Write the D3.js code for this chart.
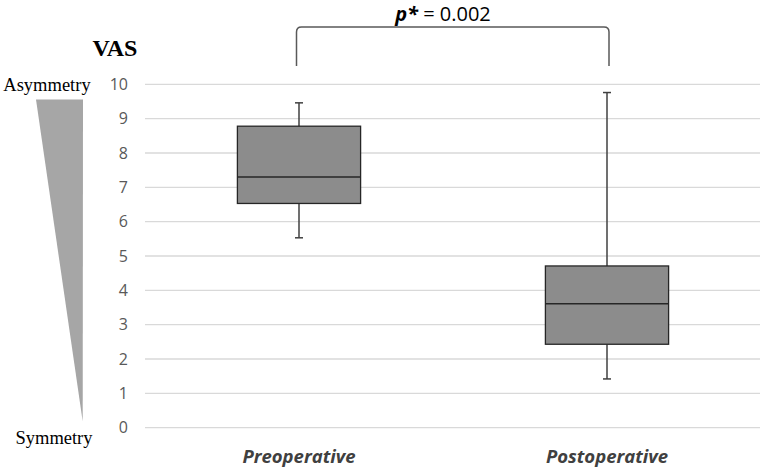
<!DOCTYPE html>
<html><head><meta charset="utf-8">
<script src="https://cdn.jsdelivr.net/npm/d3@7"></script>
<style>body{margin:0;background:#fff}svg{display:block}</style>
</head><body>
<svg id="c" width="762" height="470"></svg>
<script>
const categories = ["Preoperative", "Postoperative"];
const whiskerLow = [5.53, 1.42];
const q1 = [6.53, 2.43];
const medians = [7.30, 3.61];
const q3 = [8.78, 4.71];
const whiskerHigh = [9.46, 9.76];
const yTicks = [0,1,2,3,4,5,6,7,8,9,10];
const pLabel = "= 0.002";

const svg = d3.select("#c");
const x = d3.scaleBand().domain(categories).range([145, 761]).paddingInner(0).paddingOuter(0);
const y = d3.scaleLinear().domain([0, 10]).range([427.7, 84.3]);

// gridlines
svg.append("g").selectAll("line").data(yTicks).join("line")
  .attr("x1", 145).attr("x2", 760)
  .attr("y1", d => y(d)).attr("y2", d => y(d))
  .attr("stroke", "#d9d9d9").attr("stroke-width", 1.3);

// y tick labels
svg.append("g").selectAll("text").data(yTicks).join("text")
  .attr("x", 128).attr("y", d => y(d)).attr("dy", "0.35em")
  .attr("text-anchor", "end")
  .attr("font-family", "Open Sans, sans-serif").attr("font-size", 16)
  .attr("fill", "#595959").text(d => d);

// boxes
const bw = x.bandwidth() * 0.4;
const g = svg.append("g");
categories.forEach((c, i) => {
  const cx = x(c) + x.bandwidth() / 2;
  g.append("line").attr("x1", cx).attr("x2", cx).attr("y1", y(whiskerHigh[i])).attr("y2", y(q3[i]))
    .attr("stroke", "#404040").attr("stroke-width", 1.5);
  g.append("line").attr("x1", cx).attr("x2", cx).attr("y1", y(q1[i])).attr("y2", y(whiskerLow[i]))
    .attr("stroke", "#404040").attr("stroke-width", 1.5);
  [whiskerHigh[i], whiskerLow[i]].forEach(v => {
    g.append("line").attr("x1", cx - 4).attr("x2", cx + 4).attr("y1", y(v)).attr("y2", y(v))
      .attr("stroke", "#404040").attr("stroke-width", 1.5);
  });
  g.append("rect").attr("x", cx - bw / 2).attr("width", bw)
    .attr("y", y(q3[i])).attr("height", y(q1[i]) - y(q3[i]))
    .attr("fill", "#8c8c8c").attr("stroke", "#262626").attr("stroke-width", 1.3);
  g.append("line").attr("x1", cx - bw / 2).attr("x2", cx + bw / 2).attr("y1", y(medians[i])).attr("y2", y(medians[i]))
    .attr("stroke", "#262626").attr("stroke-width", 1.5);
  svg.append("text").attr("x", cx).attr("y", 463).attr("text-anchor", "middle")
    .attr("font-family", "Open Sans, sans-serif").attr("font-size", 18.5).attr("font-weight", "bold")
    .attr("font-style", "italic").attr("fill", "#404040").text(c);
});

// bracket
const bx1 = x(categories[0]) + x.bandwidth() / 2 - 2.5;
const bx2 = x(categories[1]) + x.bandwidth() / 2 + 2;
const byTop = 27, byBot = 66, r = 5;
svg.append("path")
  .attr("d", `M${bx1},${byBot} L${bx1},${byTop + r} Q${bx1},${byTop} ${bx1 + r},${byTop} L${bx2 - r},${byTop} Q${bx2},${byTop} ${bx2},${byTop + r} L${bx2},${byBot}`)
  .attr("fill", "none").attr("stroke", "#595959").attr("stroke-width", 1.5);

const pt = svg.append("text").attr("x", 443).attr("y", 21).attr("text-anchor", "middle")
  .attr("font-family", "Open Sans, sans-serif").attr("font-size", 20).attr("fill", "#000");
pt.append("tspan").attr("font-style", "italic").attr("font-weight", "bold").text("p*");
pt.append("tspan").text(" " + pLabel);

// VAS title
svg.append("text").attr("x", 115).attr("y", 56).attr("text-anchor", "middle")
  .attr("font-family", "Liberation Serif, serif").attr("font-size", 24).attr("font-weight", "bold")
  .attr("fill", "#000").text("VAS");

svg.append("text").attr("x", 47).attr("y", 91).attr("text-anchor", "middle")
  .attr("font-family", "Liberation Serif, serif").attr("font-size", 18.5)
  .attr("fill", "#000").text("Asymmetry");
svg.append("text").attr("x", 54).attr("y", 444).attr("text-anchor", "middle")
  .attr("font-family", "Liberation Serif, serif").attr("font-size", 18.5)
  .attr("fill", "#000").text("Symmetry");

// wedge
svg.append("path").attr("d", "M36,99.5 L83,99.5 L82.7,421.5 Z").attr("fill", "#a6a6a6");
</script>
</body></html>
